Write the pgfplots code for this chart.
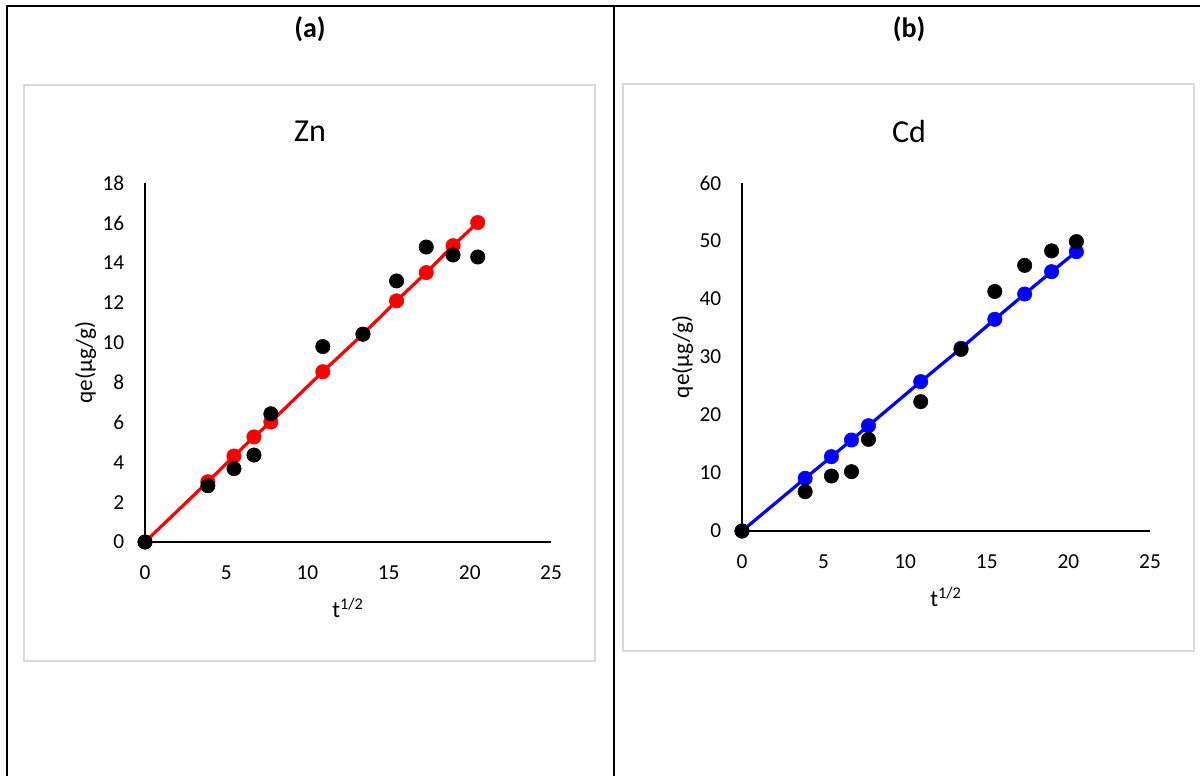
\documentclass[border=0pt]{standalone}
\usepackage{pgfplots}
\pgfplotsset{compat=1.18}
\usepackage{fontspec}
\setmainfont{Carlito}
\begin{document}
\begin{tikzpicture}[x=0.75pt,y=-0.75pt]
\useasboundingbox (0,0) rectangle (1200,776);
% table borders
\draw[line width=1.6pt] (6,5.6) -- (1200,5.6);
\draw[line width=1.6pt] (7,5) -- (7,776);
\draw[line width=1.6pt] (613.7,5) -- (613.7,776);
% chart boxes
\draw[gray!30,line width=1.1pt] (24,85) rectangle (595,661);
\draw[gray!30,line width=1.1pt] (623,84) rectangle (1194,651);
% panel labels
\node[font=\fontsize{21}{24}\selectfont\bfseries] at (310,29) {(a)};
\node[font=\fontsize{21}{24}\selectfont\bfseries] at (909,29) {(b)};
\node[font=\fontsize{24}{28}\selectfont] at (310,131) {Zn};
\node[font=\fontsize{24}{28}\selectfont] at (909,131) {Cd};

\pgfplotsset{
  excel/.style={
    scale only axis,
    anchor=south west,
    axis lines*=left,
    axis line style={line width=0.9pt,black},
    major tick length=0pt,
    xmin=0, xmax=25,
    xtick={0,5,...,25},
    ymin=0,
    tick label style={font=\fontsize{16}{19}\selectfont},
    /pgf/number format/assume math mode=true,
    xticklabel style={yshift=-14pt},
    yticklabel style={xshift=-12pt},
    label style={font=\fontsize{17.5}{20}\selectfont},
    clip=false,
  }
}

\begin{axis}[excel,
  at={(108.75pt,-406.5pt)},
  width=304.5pt, height=269.25pt,
  ymax=18, ytick={0,2,...,18},
  xlabel={t\textsuperscript{1/2}},
  ylabel={qe(µg/g)},
  xlabel style={yshift=-7pt},
  ylabel style={yshift=-2pt},
]
\addplot[red,line width=2.4pt,mark=*,mark size=5.4pt,mark options={fill=red,draw=red,line width=0.4pt}] coordinates {
(0,0) (3.87,3.02) (5.48,4.31) (6.71,5.27) (7.75,6.02) (10.95,8.54) (13.42,10.42) (15.49,12.09) (17.32,13.51) (18.97,14.86) (20.49,16.02)
};
\addplot[only marks,mark=*,mark size=5.4pt,mark options={fill=black,draw=black,line width=0.4pt}] coordinates {
(0,0) (3.87,2.82) (5.48,3.68) (6.71,4.36) (7.75,6.43) (10.95,9.80) (13.42,10.42) (15.49,13.09) (17.32,14.79) (18.97,14.39) (20.49,14.29)
};
\end{axis}

\begin{axis}[excel,
  at={(556.5pt,-398.25pt)},
  width=306pt, height=261pt,
  ymax=60, ytick={0,10,...,60},
  xlabel={t\textsuperscript{1/2}},
  ylabel={qe(µg/g)},
  xlabel style={yshift=-7pt},
  ylabel style={yshift=-2pt},
]
\addplot[blue,line width=2.4pt,mark=*,mark size=5.4pt,mark options={fill=blue,draw=blue,line width=0.4pt}] coordinates {
(0,0) (3.87,9.09) (5.48,12.82) (6.71,15.69) (7.75,18.16) (10.95,25.75) (13.42,31.5) (15.49,36.5) (17.32,40.86) (18.97,44.71) (20.49,48.16)
};
\addplot[only marks,mark=*,mark size=5.4pt,mark options={fill=black,draw=black,line width=0.4pt}] coordinates {
(0,0) (3.87,6.78) (5.48,9.48) (6.71,10.23) (7.75,15.8) (10.95,22.3) (13.42,31.3) (15.49,41.3) (17.32,45.8) (18.97,48.3) (20.49,49.9)
};
\end{axis}
\end{tikzpicture}
\end{document}
